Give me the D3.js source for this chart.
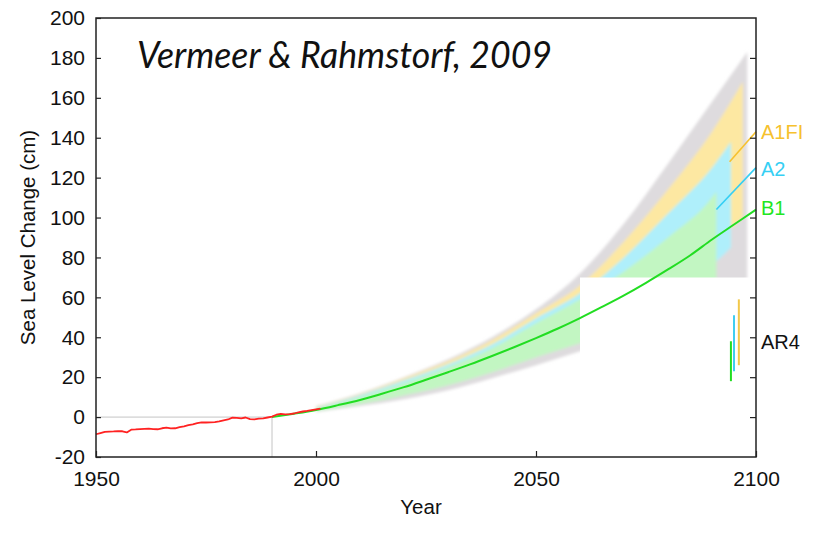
<!DOCTYPE html>
<html>
<head>
<meta charset="utf-8">
<script src="https://cdn.jsdelivr.net/npm/d3@7"></script>
<style>
  html, body { margin: 0; padding: 0; background: #fff; }
  svg { display: block; }
  .tick text { font-family: "Liberation Sans", Arial, sans-serif; font-size: 21px; fill: #111; }
</style>
</head>
<body>
<svg id="chart" width="823" height="534"></svg>
<script>
// ---- data ----
const yTicks = [-20, 0, 20, 40, 60, 80, 100, 120, 140, 160, 180, 200];
const xTicks = [1950, 2000, 2050, 2100];

// observed sea level (cm, relative to 1990)
const obsYears = d3.range(1950, 2002);
const obsValues = [-8.6, -8.0, -7.4, -7.3, -7.2, -7.0, -7.1, -7.7, -6.3, -6.2,
                   -6.0, -5.9, -5.8, -6.0, -6.1, -5.6, -5.3, -5.7, -5.6, -5.0,
                   -4.6, -4.0, -3.6, -3.0, -2.6, -2.7, -2.6, -2.5, -2.2, -1.6,
                   -1.2, -0.3, -0.4, -0.6, -0.2, -1.0, -1.1, -0.8, -0.6, -0.2,
                    0.2, 1.2, 1.6, 1.4, 1.5, 1.8, 2.4, 2.8, 3.1, 3.5,
                    3.9, 4.2];

// B1 central projection
const b1Years = [1990, 1995, 2000, 2005, 2010, 2015, 2020, 2025, 2030, 2035, 2040, 2045,
                 2050, 2055, 2060, 2065, 2070, 2075, 2080, 2085, 2090, 2095, 2100];
const b1Values = [0, 1.7, 3.6, 6.0, 8.6, 11.7, 15.0, 18.7, 22.5, 26.4, 30.6, 35.0,
                  39.6, 44.4, 49.6, 55.2, 61.0, 67.3, 74.0, 81.0, 89.0, 96.5, 104];

// projection ranges; the last entry of each band sits at that band's end year
const bandYears = [2000, 2010, 2020, 2030, 2040, 2050, 2060, 2070, 2080, 2090];
const bandNames = ["envelope", "A1FI", "A2", "B1"];
const bandEndYears = [2098, 2097, 2094.3, 2091];
const envelopeTop    = [5.5, 12, 20, 29, 40, 54, 72, 97, 127, 158, 183];
const envelopeBottom = [2.5, 5.5, 9, 13.5, 19.5, 26, 33, 40, 48, 56, 62];
const a1fiTop    = [5, 11.5, 19.5, 28, 38.5, 52, 66, 88, 114, 143, 168];
const a1fiBottom = [3.5, 8, 13, 19, 26, 34, 43, 56, 70, 86, 100];
const a2Top    = [4.5, 11, 18.5, 26.5, 36.5, 49.5, 62, 80, 102, 125, 138];
const a2Bottom = [3.5, 7.5, 12, 17.5, 24, 31, 39, 50, 62, 76, 85];
const b1Top    = [4, 10, 17, 25, 34.5, 47, 59, 73, 90, 110, 113];
const b1Bottom = [3, 6.5, 11, 16, 22.5, 30, 37, 45, 53, 61, 62];

// AR4 ranges for 2090-2099 (cm)
const ar4Names = ["B1", "A2", "A1FI"];
const ar4Years = [2094.3, 2095, 2096.1];
const ar4Low  = [18, 23, 26];
const ar4High = [38, 51, 59];

// scenario labels and their leader lines
const labelNames = ["A1FI", "A2", "B1", "AR4"];
const labelValues = [143, 124.5, 105, 37.5];
const leaderFrom = [[2094, 128], [2091, 104]];
const leaderTo   = [[2100, 143], [2100, 125]];

// ---- drawing ----
const colors = {
  envelope: "#dedbde",
  A1FI: "#fde8a2",
  A2: "#afeffb",
  B1: "#c2f6c2",
  lineB1: "#22dd22",
  obs: "#ff2222",
  labA1FI: "#f6c12e",
  labA2: "#35cff4",
  labB1: "#22e622"
};

const svg = d3.select("#chart");
const x = d3.scaleLinear().domain([1950, 2100]).range([96, 756]);
const y = d3.scaleLinear().domain([-20, 200]).range([457, 18]);
const fmt = d => String(d);

const defs = svg.append("defs");
defs.append("filter").attr("id", "soft")
  .attr("x", "-5%").attr("y", "-5%").attr("width", "110%").attr("height", "110%")
  .append("feGaussianBlur").attr("stdDeviation", 1.4);

// the bands are cut away right of 2060 below 70 cm
const clip = defs.append("clipPath").attr("id", "bandClip");
clip.append("rect")
  .attr("x", x(1950)).attr("y", y(200))
  .attr("width", x(2060) - x(1950)).attr("height", y(-20) - y(200));
clip.append("rect")
  .attr("x", x(2060)).attr("y", y(200))
  .attr("width", x(2100) - x(2060)).attr("height", y(70) - y(200));

const bandTops = [envelopeTop, a1fiTop, a2Top, b1Top];
const bandBottoms = [envelopeBottom, a1fiBottom, a2Bottom, b1Bottom];

const area = d3.area()
  .x(d => x(d.year))
  .y0(d => y(d.lo))
  .y1(d => y(d.hi))
  .curve(d3.curveMonotoneX);

const bandG = svg.append("g").attr("clip-path", "url(#bandClip)")
  .append("g").attr("filter", "url(#soft)");

bandNames.forEach((name, i) => {
  const yrs = bandYears.concat([bandEndYears[i]]);
  const pts = yrs.map((yr, k) => ({ year: yr, lo: bandBottoms[i][k], hi: bandTops[i][k] }));
  bandG.append("path")
    .datum(pts)
    .attr("d", area)
    .attr("fill", colors[name]);
});

// 1990 reference lines
svg.append("line")
  .attr("x1", x(1950)).attr("x2", x(1990))
  .attr("y1", y(0)).attr("y2", y(0))
  .attr("stroke", "#c4c4c4").attr("stroke-width", 1);
svg.append("line")
  .attr("x1", x(1990)).attr("x2", x(1990))
  .attr("y1", y(0)).attr("y2", y(-20))
  .attr("stroke", "#c4c4c4").attr("stroke-width", 1);

// B1 central line
svg.append("path")
  .datum(b1Years.map((yr, i) => [yr, b1Values[i]]))
  .attr("d", d3.line().x(d => x(d[0])).y(d => y(d[1])).curve(d3.curveMonotoneX))
  .attr("fill", "none")
  .attr("stroke", colors.lineB1)
  .attr("stroke-width", 2);

// observations
svg.append("path")
  .datum(obsYears.map((yr, i) => [yr, obsValues[i]]))
  .attr("d", d3.line().x(d => x(d[0])).y(d => y(d[1])))
  .attr("fill", "none")
  .attr("stroke", colors.obs)
  .attr("stroke-width", 1.8)
  .attr("stroke-linejoin", "round");

// AR4 bars
const ar4Colors = [colors.lineB1, "#3fcdf0", "#f2c84a"];
ar4Names.forEach((n, i) => {
  svg.append("line")
    .attr("x1", x(ar4Years[i])).attr("x2", x(ar4Years[i]))
    .attr("y1", y(ar4Low[i])).attr("y2", y(ar4High[i]))
    .attr("stroke", ar4Colors[i]).attr("stroke-width", 2);
});

// leader lines to the scenario labels
const leaderColors = [colors.labA1FI, colors.labA2];
leaderFrom.forEach((p, i) => {
  svg.append("line")
    .attr("x1", x(p[0])).attr("y1", y(p[1]))
    .attr("x2", x(leaderTo[i][0])).attr("y2", y(leaderTo[i][1]))
    .attr("stroke", leaderColors[i]).attr("stroke-width", 1.6);
});

// frame
svg.append("rect")
  .attr("x", x(1950)).attr("y", y(200))
  .attr("width", x(2100) - x(1950)).attr("height", y(-20) - y(200))
  .attr("fill", "none").attr("stroke", "#222").attr("stroke-width", 1.5);

// axes
const gLeft = svg.append("g").attr("transform", `translate(${x(1950)},0)`)
  .call(d3.axisLeft(y).tickValues(yTicks).tickSize(-5).tickPadding(11).tickFormat(fmt));
const gRight = svg.append("g").attr("transform", `translate(${x(2100)},0)`)
  .call(d3.axisRight(y).tickValues(yTicks.slice(1, -1)).tickSize(-6).tickFormat(""));
const gBottom = svg.append("g").attr("transform", `translate(0,${y(-20)})`)
  .call(d3.axisBottom(x).tickValues(xTicks).tickSize(-6).tickPadding(14).tickFormat(fmt));
[gLeft, gRight, gBottom].forEach(g => {
  g.select(".domain").remove();
  g.selectAll(".tick line").attr("stroke", "#222").attr("stroke-width", 1.2);
});

// axis titles
svg.append("text")
  .attr("transform", `translate(35,${(y(200) + y(-20)) / 2}) rotate(-90)`)
  .attr("text-anchor", "middle")
  .style("font-family", "'Liberation Sans', Arial, sans-serif")
  .style("font-size", "20.5px").style("fill", "#111")
  .text("Sea Level Change (cm)");
svg.append("text")
  .attr("x", 421).attr("y", 514)
  .attr("text-anchor", "middle")
  .style("font-family", "'Liberation Sans', Arial, sans-serif")
  .style("font-size", "20.5px").style("fill", "#111")
  .text("Year");

// scenario labels
const labelColors = [colors.labA1FI, colors.labA2, colors.labB1, "#111"];
labelNames.forEach((n, i) => {
  svg.append("text")
    .attr("x", x(2100) + 5).attr("y", y(labelValues[i]))
    .attr("dy", "0.36em")
    .style("font-family", "'Liberation Sans', Arial, sans-serif")
    .style("font-size", "20px").style("fill", labelColors[i])
    .text(n);
});

// title
svg.append("text")
  .attr("x", 137).attr("y", 68)
  .attr("textLength", 415).attr("lengthAdjust", "spacingAndGlyphs")
  .style("font-family", "Lato, 'Open Sans', sans-serif")
  .style("font-style", "italic")
  .style("font-size", "37px").style("fill", "#111")
  .text("Vermeer & Rahmstorf, 2009");
</script>
</body>
</html>
